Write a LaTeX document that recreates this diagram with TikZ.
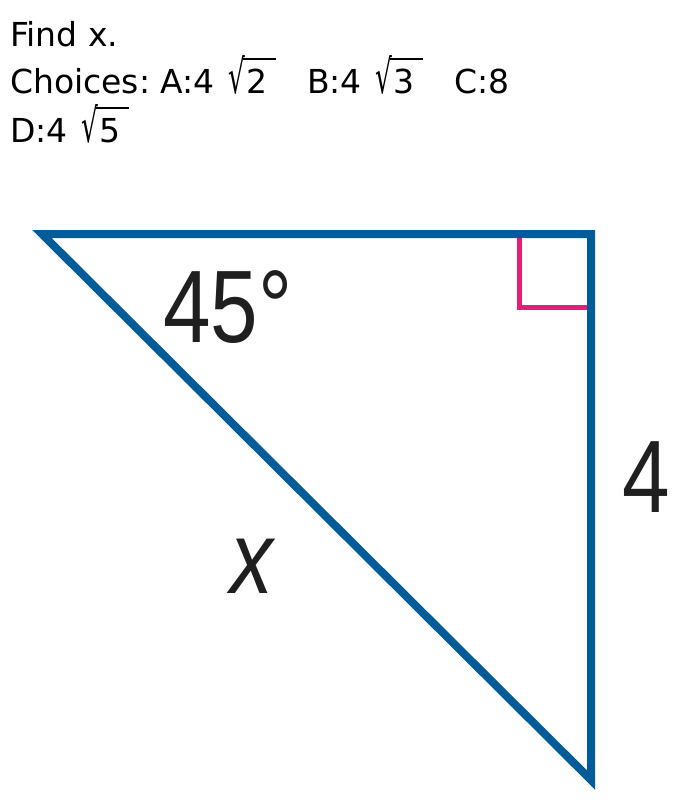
\documentclass[tikz,border=0pt]{standalone}
\usepackage{fontspec}
\usepackage{graphicx}
\setmainfont{DejaVu Sans}
\newfontfamily\labelfont{Liberation Sans}
\frenchspacing
\definecolor{sideblue}{RGB}{0, 92, 152}
\definecolor{anglepink}{RGB}{228, 30, 120}
\newcommand{\surdof}[1]{\kern3pt\scalebox{0.8}[1.42]{√}\kern-2pt\vbox{\hrule height 2pt\kern 9pt\hbox{\kern3pt#1\kern9pt}}}

\begin{document}
\begin{tikzpicture}[x=1pt, y=-1pt,
  qtext/.style={anchor=base west, inner sep=0pt, font=\fontsize{33}{38}\selectfont},
  side/.style={draw=sideblue, line width=8pt, line join=miter},
  rightmark/.style={draw=anglepink, line width=5pt},
  measure/.style={anchor=base west, inner sep=0pt, text=black!88, xscale=0.83, font=\labelfont\fontsize{103}{110}\selectfont}
]
  \useasboundingbox (0,0) rectangle (676,807);

  \node[qtext] (find) at (10,46) {Find x.};
  \node[qtext] (choices) at (10,93) {Choices: A:4 \surdof{2}\hspace*{31pt}B:4 \surdof{3}\hspace*{31pt}C:8};
  \node[qtext] (lastchoice) at (10,142) {D:4 \surdof{5}};

  \coordinate (apex) at (42,234);
  \coordinate (corner) at (591,234);
  \coordinate (foot) at (591,780);
  \coordinate (markA) at (519,234);
  \coordinate (markB) at (591,307);

  \draw[rightmark] (markA) |- (markB);
  \draw[side] (apex) -- (corner) -- (foot) -- cycle;

  \node[measure] (angle) at (163,342) {45°};
  \node[measure, font=\labelfont\itshape\fontsize{103}{110}\selectfont] (hyp) at (230,593) {x};
  \node[measure] (leg) at (622,512) {4};
\end{tikzpicture}
\end{document}
